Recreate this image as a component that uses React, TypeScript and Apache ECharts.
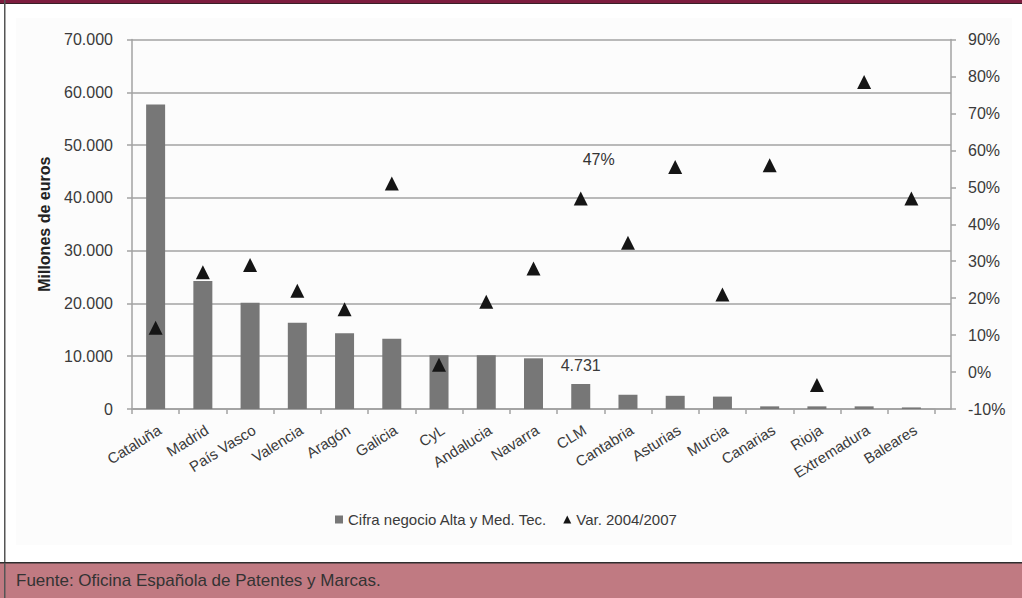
import React, { useEffect, useRef } from 'react';
import * as echarts from 'echarts';

const regions = ['Cataluña', 'Madrid', 'País Vasco', 'Valencia', 'Aragón', 'Galicia', 'CyL', 'Andalucia', 'Navarra', 'CLM', 'Cantabria', 'Asturias', 'Murcia', 'Canarias', 'Rioja', 'Extremadura', 'Baleares'];
const turnover = [57700, 24250, 20150, 16350, 14350, 13300, 10200, 10200, 9600, 4731, 2700, 2500, 2350, 500, 500, 500, 300];
const variation = [12, 27, 29, 22, 17, 51, 2, 19, 28, 47, 35, 55.5, 21, 56, -3.5, 78.5, 47];
const barName = 'Cifra negocio Alta y Med. Tec.';
const scatterName = 'Var. 2004/2007';
const yAxisTitle = 'Millones de euros';
const sourceNote = 'Fuente: Oficina Española de Patentes y Marcas.';
const labelledIndex = 9;
const barLabel = '4.731';
const scatterLabel = '47%';

const FONT = '"Liberation Sans", Arial, sans-serif';
const TXT = '#3a3a3a';
const AX = '#a3a3a3';

const fmtThousands = (v: number) => String(v).replace(/\B(?=(\d{3})+(?!\d))/g, '.');

export default function App() {
  const ref = useRef<HTMLDivElement>(null);
  useEffect(() => {
    const chart = echarts.init(ref.current as HTMLDivElement, null, { renderer: 'svg' });
    const gridTop = 39.5;
    const gridBottom = 598 - 409;
    const option: any = {
      animation: false,
      backgroundColor: '#ffffff',
      textStyle: { fontFamily: FONT },
      graphic: [
        { type: 'rect', z: -10, shape: { x: 16, y: 18, width: 996, height: 527 }, style: { fill: '#fcfcfc' }, silent: true },
        { type: 'rect', shape: { x: 0, y: 0, width: 1022, height: 3 }, style: { fill: '#7d1d3f' } },
        { type: 'rect', shape: { x: 0, y: 3, width: 1022, height: 1 }, style: { fill: '#3a2028' } },
        { type: 'rect', shape: { x: 4, y: 0, width: 1.5, height: 598 }, style: { fill: '#555555' } },
        { type: 'rect', shape: { x: 0, y: 563, width: 1022, height: 35 }, style: { fill: '#c07a82' } },
        { type: 'rect', shape: { x: 0, y: 562, width: 1022, height: 1.5 }, style: { fill: '#2e2e2e' } },
        { type: 'rect', shape: { x: 4, y: 563, width: 1.5, height: 35 }, style: { fill: '#555555' } },
        { type: 'text', x: 16, y: 580, style: { text: sourceNote, fill: '#333333', font: '17px ' + FONT, textVerticalAlign: 'middle' } },
      ],
      legend: {
        left: 330,
        top: 507,
        itemWidth: 8,
        itemHeight: 8,
        itemGap: 16,
        textStyle: { fontSize: 15, color: TXT, fontFamily: FONT },
        data: [
          { name: barName, icon: 'rect' },
          { name: scatterName, icon: 'triangle' },
        ],
      },
      grid: [
        { left: 132, right: 71, top: gridTop, bottom: gridBottom },
        { left: 132, width: 803, top: gridTop, bottom: gridBottom },
      ],
      xAxis: [
        {
          gridIndex: 0, type: 'value', min: 0, max: 1,
          axisLine: { show: true, lineStyle: { color: AX, width: 1.5 } },
          axisTick: { show: false }, axisLabel: { show: false }, splitLine: { show: false },
        },
        {
          gridIndex: 1, type: 'category', data: regions, boundaryGap: true,
          axisLine: { show: true, lineStyle: { color: AX, width: 1.5 } },
          axisTick: { show: true, length: 5, lineStyle: { color: AX, width: 1.5 } },
          axisLabel: { rotate: 32, margin: 13, verticalAlign: 'top', fontSize: 15, color: TXT, fontFamily: FONT, interval: 0 },
          splitLine: { show: false },
        },
      ],
      yAxis: [
        {
          gridIndex: 0, type: 'value', position: 'left', min: 0, max: 70000, interval: 10000,
          name: yAxisTitle, nameLocation: 'middle', nameRotate: 90, nameGap: 80,
          nameTextStyle: { fontSize: 16, fontWeight: 'bold', color: '#222222', fontFamily: FONT },
          axisLine: { show: true, lineStyle: { color: AX, width: 1.5 } },
          axisTick: { show: true, length: 5, lineStyle: { color: AX, width: 1.5 } },
          axisLabel: { margin: 19, fontSize: 16, color: TXT, fontFamily: FONT, formatter: (v: number) => fmtThousands(v) },
          splitLine: { show: true, lineStyle: { color: AX, width: 1.5 } },
        },
        {
          gridIndex: 0, type: 'value', position: 'right', min: -10, max: 90, interval: 10,
          axisLine: { show: true, lineStyle: { color: AX, width: 1.5 } },
          axisTick: { show: true, length: 5, lineStyle: { color: AX, width: 1.5 } },
          axisLabel: { margin: 17, fontSize: 16, color: TXT, fontFamily: FONT, formatter: '{value}%' },
          splitLine: { show: false },
        },
        { gridIndex: 1, type: 'value', min: 0, max: 70000, show: false },
        { gridIndex: 1, type: 'value', min: -10, max: 90, show: false },
      ],
      series: [
        {
          name: barName, type: 'bar', xAxisIndex: 1, yAxisIndex: 2, barWidth: 19,
          itemStyle: { color: '#777777' },
          data: turnover.map((v, i) => i === labelledIndex
            ? { value: v, label: { show: true, position: 'top', distance: 11, formatter: barLabel, fontSize: 16, color: TXT, fontFamily: FONT } }
            : v),
        },
        {
          name: scatterName, type: 'scatter', xAxisIndex: 1, yAxisIndex: 3,
          symbol: 'triangle', symbolSize: 14,
          itemStyle: { color: '#151515', opacity: 1 },
          data: variation.map((v, i) => i === labelledIndex
            ? { value: v, label: { show: true, position: 'top', distance: 5, offset: [18, -19], formatter: scatterLabel, fontSize: 16, color: '#333333', opacity: 1, fontFamily: FONT } }
            : v),
        },
      ],
    };
    chart.setOption(option);
    return () => chart.dispose();
  }, []);
  return <div ref={ref} style={{ position: 'fixed', left: 0, top: 0, width: 1022, height: 598 }} />;
}
